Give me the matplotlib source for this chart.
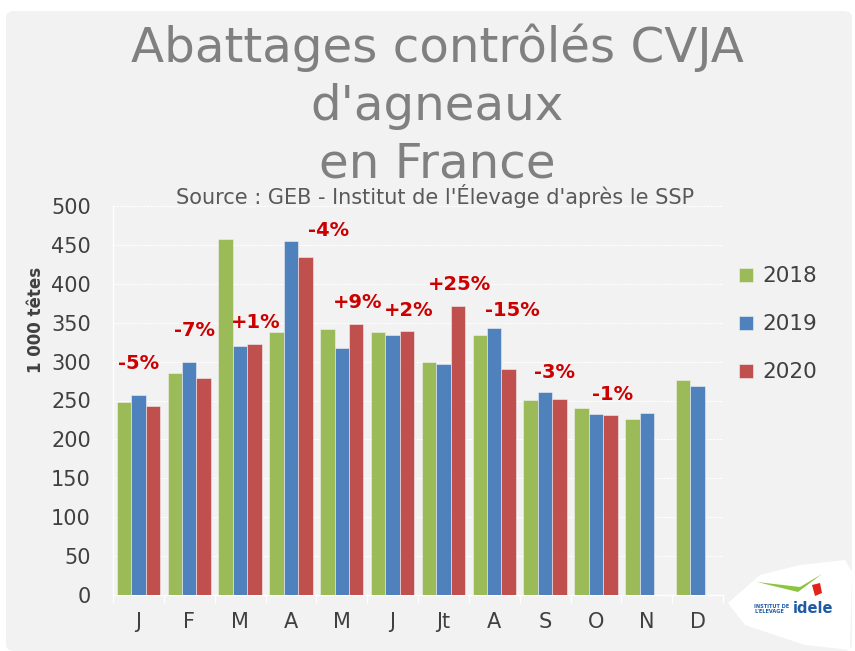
import matplotlib
matplotlib.use("Agg")
import matplotlib.pyplot as plt
import numpy as np
from matplotlib.patches import FancyBboxPatch, Polygon

months = ["J", "F", "M", "A", "M", "J", "Jt", "A", "S", "O", "N", "D"]
v2018 = [248, 285, 458, 338, 342, 338, 299, 334, 251, 240, 226, 276]
v2019 = [257, 299, 320, 455, 317, 334, 297, 343, 261, 233, 234, 268]
v2020 = [243, 279, 323, 435, 348, 339, 371, 291, 252, 231, np.nan, np.nan]
years = ["2018", "2019", "2020"]
colors = ["#9bbb59", "#4f81bd", "#c0504d"]

pct_labels = ["-5%", "-7%", "+1%", "-4%", "+9%", "+2%", "+25%", "-15%", "-3%", "-1%"]
pct_x = [0.0, 1.1, 2.31, 3.74, 4.31, 5.31, 6.32, 7.36, 8.19, 9.33]
pct_y = [285, 328, 338, 456, 364, 354, 387, 353, 274, 246]

FONT = "DejaVu Sans"
TXT = "#404040"

fig = plt.figure(figsize=(8.55, 6.51), dpi=100)
fig.patch.set_facecolor("white")
panel = FancyBboxPatch((6/855, 0.0), 846/855, (651-11)/651, boxstyle="round,pad=0,rounding_size=0.01",
                       transform=fig.transFigure, facecolor="#f2f2f2", edgecolor="none", zorder=-10)
fig.patches.append(panel)

ax = fig.add_axes([113/855, (651-595)/651, 610/855, 389/651])
ax.set_facecolor("#f2f2f2")

x = np.arange(len(months))
w = 0.284
for i, (vals, c, lab) in enumerate(zip([v2018, v2019, v2020], colors, years)):
    ax.bar(x + (i - 1) * w, vals, width=w, color=c, edgecolor="#f2f2f2", linewidth=0.4,
           label=lab, zorder=3)

ax.set_xlim(-0.5, 11.5)
ax.set_ylim(0, 500)
ax.set_yticks(np.arange(0, 501, 50))
ax.set_xticks(x)
ax.set_xticklabels(months, fontsize=15, color=TXT, family=FONT)
ax.set_xticks(np.arange(-0.5, 12, 1), minor=True)
ax.tick_params(axis="x", which="major", length=0, pad=12)
ax.tick_params(axis="x", which="minor", length=6, color="white", width=1)
ax.tick_params(axis="y", length=0, labelsize=15, labelcolor=TXT, pad=16)
for lbl in ax.get_yticklabels():
    lbl.set_family(FONT)
ax.yaxis.grid(True, color="white", linestyle=(0, (2, 1)), linewidth=0.8, zorder=0)
ax.set_axisbelow(True)
for s in ["top", "right"]:
    ax.spines[s].set_visible(False)
for s in ["left", "bottom"]:
    ax.spines[s].set_color("white")
    ax.spines[s].set_linewidth(1)

ax.set_ylabel("1 000 têtes", fontsize=12, fontweight="bold", color=TXT, family=FONT)
ax.yaxis.set_label_coords(-0.112, 0.707)

for t, xx, yy in zip(pct_labels, pct_x, pct_y):
    ax.text(xx, yy, t, ha="center", va="bottom", fontsize=14, fontweight="bold",
            color="#cc0000", family=FONT, zorder=5)

leg = ax.legend(loc="upper left", bbox_to_anchor=(0.995, 0.895), frameon=False,
                handlelength=0.62, handleheight=0.62, labelspacing=1.3, handletextpad=0.45,
                prop={"family": FONT, "size": 15.5})
for t in leg.get_texts():
    t.set_color(TXT)

TS = 34.8
fig.text(437/855, 1 - 62/651, "Abattages contrôlés CVJA", ha="center", va="baseline",
         fontsize=TS, color="#808080", family=FONT)
fig.text(437/855, 1 - 120/651, "d'agneaux", ha="center", va="baseline",
         fontsize=TS, color="#808080", family=FONT)
fig.text(437/855, 1 - 177/651, "en France", ha="center", va="baseline",
         fontsize=TS, color="#808080", family=FONT)
fig.text(435/855, 1 - 204/651, "Source : GEB - Institut de l'Élevage d'après le SSP", ha="center",
         va="baseline", fontsize=15, color="#595959", family=FONT)

# logo
blob = Polygon([(728/855, 1-603/651), (760/855, 1-575/651), (800/855, 1-565/651), (845/855, 1-560/651),
                (852/855, 1-572/651), (850/855, 1-650/651), (805/855, 1-645/651), (745/855, 1-625/651)],
               closed=True, transform=fig.transFigure, facecolor="white", edgecolor="none", zorder=1)
fig.patches.append(blob)
fig.text(754/855, 1 - 613/651, "INSTITUT DE\nL'ELEVAGE", fontsize=3.6, fontweight="bold",
         color="#1f5aa6", family=FONT, va="baseline", linespacing=1.1)
fig.text(793/855, 1 - 613/651, "idele", fontsize=10.5, fontweight="bold", color="#1f5aa6",
         family=FONT, va="baseline")
swoosh = Polygon([(757/855, 1-582/651), (798/855, 1-592/651), (822/855, 1-574/651),
                  (800/855, 1-587/651)], closed=True, transform=fig.transFigure,
                 facecolor="#8cc63f", edgecolor="none", zorder=2)
fig.patches.append(swoosh)
red = Polygon([(812/855, 1-585/651), (820/855, 1-583/651), (822/855, 1-593/651), (815/855, 1-596/651)],
              closed=True, transform=fig.transFigure, facecolor="#e2231a", edgecolor="none", zorder=2)
fig.patches.append(red)

fig.savefig("out.png", dpi=100, facecolor=fig.get_facecolor())
